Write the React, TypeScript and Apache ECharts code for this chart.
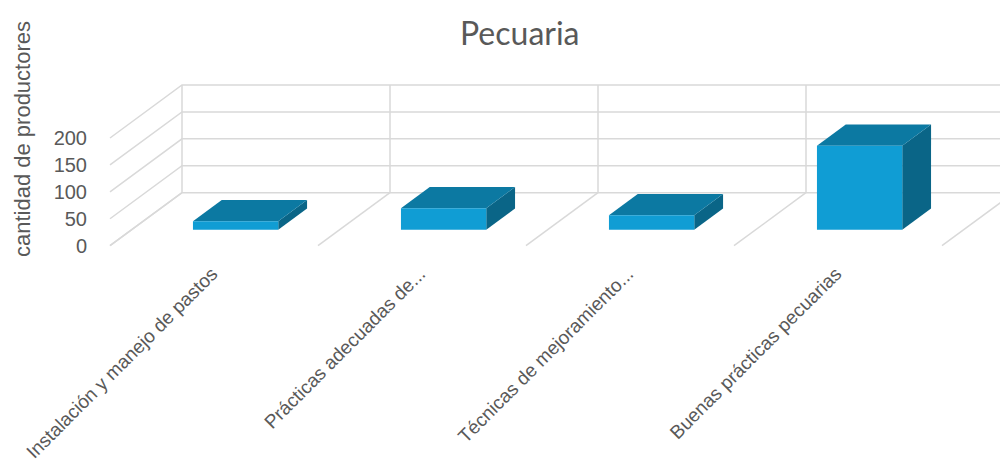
import React, { useEffect, useRef } from "react";
import * as echarts from "echarts";

// Livestock practices: number of producers per practice
const categories = [
  "Instalación y manejo de pastos",
  "Prácticas adecuadas de...",
  "Técnicas de mejoramiento...",
  "Buenas prácticas pecuarias",
];
const values = [16, 40, 27, 156];
const yTicks = [0, 50, 100, 150, 200];

// Oblique projection of the depth axis (screen pixels for full depth)
const DEPTH_X = 72;
const DEPTH_Y = -53;
// Bars sit in the middle of the depth, narrower than their band
const BAR_DEPTH_FRONT = 0.3;
const BAR_DEPTH_BACK = 0.7;
const BAR_WIDTH_RATIO = 0.41;

const GRID_COLOR = "#d9d9d9";
const TEXT_COLOR = "#595959";
const FACE_FRONT = "#109dd4";
const FACE_TOP = "#0c79a2";
const FACE_SIDE = "#0a6587";

export default function App() {
  const ref = useRef<HTMLDivElement>(null);

  useEffect(() => {
    if (!ref.current) return;
    const chart = echarts.init(ref.current, undefined, { renderer: "svg" });

    const lineStyle = { stroke: GRID_COLOR, lineWidth: 1.5, fill: null };

    const option: any = {
      animation: false,
      backgroundColor: "#ffffff",
      title: {
        text: "Pecuaria",
        left: 455,
        top: 11,
        textStyle: {
          fontFamily: "Lato, sans-serif",
          fontWeight: "normal",
          fontSize: 32,
          color: TEXT_COLOR,
        },
      },
      grid: { left: 110, right: 58, top: 138, bottom: 216 },
      xAxis: {
        type: "category",
        data: categories,
        axisLine: { show: false },
        axisTick: { show: false },
        splitLine: { show: false },
        axisLabel: {
          interval: 0,
          rotate: 45,
          margin: 25,
          fontFamily: "'Liberation Sans', Arial, sans-serif",
          fontSize: 19,
          color: TEXT_COLOR,
        },
      },
      yAxis: {
        type: "value",
        min: 0,
        max: 200,
        interval: 50,
        axisLine: { show: false },
        axisTick: { show: false },
        splitLine: { show: false },
        axisLabel: {
          margin: 23,
          fontFamily: "'Liberation Sans', Arial, sans-serif",
          fontSize: 20,
          color: TEXT_COLOR,
        },
      },
      graphic: [
        {
          type: "text",
          x: 22,
          y: 139,
          rotation: Math.PI / 2,
          style: {
            text: "cantidad de productores",
            fontFamily: "'Liberation Sans', Arial, sans-serif",
            fontSize: 22,
            fill: TEXT_COLOR,
            align: "center",
            verticalAlign: "middle",
          },
        },
      ],
      series: [
        {
          // Left wall and back wall gridlines at each tick value
          type: "custom",
          clip: false,
          silent: true,
          z: 1,
          data: yTicks.map((v) => [0, v]),
          renderItem: (params: any, api: any) => {
            const cs = params.coordSys;
            const y = api.coord([0, api.value(1)])[1];
            return {
              type: "polyline",
              shape: {
                points: [
                  [cs.x, y],
                  [cs.x + DEPTH_X, y + DEPTH_Y],
                  [cs.x + cs.width + DEPTH_X, y + DEPTH_Y],
                ],
              },
              style: lineStyle,
            };
          },
        },
        {
          // Floor diagonals and back wall verticals at band boundaries
          type: "custom",
          clip: false,
          silent: true,
          z: 1,
          data: categories.map((_, i) => [i, 0]),
          renderItem: (params: any, api: any) => {
            const i = api.value(0);
            const band = api.size([1, 0])[0];
            const center = api.coord([i, 0]);
            const y0 = center[1];
            const yTop = api.coord([i, yTicks[yTicks.length - 1]])[1];
            const edges = [center[0] - band / 2];
            if (params.dataIndex === categories.length - 1) edges.push(center[0] + band / 2);
            const children: any[] = [];
            edges.forEach((x) => {
              children.push({
                type: "line",
                shape: { x1: x, y1: y0, x2: x + DEPTH_X, y2: y0 + DEPTH_Y },
                style: lineStyle,
              });
              children.push({
                type: "line",
                shape: {
                  x1: x + DEPTH_X,
                  y1: y0 + DEPTH_Y,
                  x2: x + DEPTH_X,
                  y2: yTop + DEPTH_Y,
                },
                style: lineStyle,
              });
            });
            return { type: "group", children };
          },
        },
        {
          // 3D boxes
          type: "custom",
          clip: false,
          z: 5,
          data: values.map((v, i) => [i, v]),
          renderItem: (params: any, api: any) => {
            const i = api.value(0);
            const v = api.value(1);
            const base = api.coord([i, 0]);
            const top = api.coord([i, v]);
            const band = api.size([1, 0])[0];
            const hw = (band * BAR_WIDTH_RATIO) / 2;
            const fx = DEPTH_X * BAR_DEPTH_FRONT;
            const fy = DEPTH_Y * BAR_DEPTH_FRONT;
            const bx = DEPTH_X * BAR_DEPTH_BACK;
            const by = DEPTH_Y * BAR_DEPTH_BACK;
            const l = base[0] - hw;
            const r = base[0] + hw;
            return {
              type: "group",
              children: [
                {
                  type: "polygon",
                  shape: {
                    points: [
                      [r + fx, top[1] + fy],
                      [r + bx, top[1] + by],
                      [r + bx, base[1] + by],
                      [r + fx, base[1] + fy],
                    ],
                  },
                  style: { fill: FACE_SIDE },
                },
                {
                  type: "polygon",
                  shape: {
                    points: [
                      [l + fx, top[1] + fy],
                      [r + fx, top[1] + fy],
                      [r + bx, top[1] + by],
                      [l + bx, top[1] + by],
                    ],
                  },
                  style: { fill: FACE_TOP },
                },
                {
                  type: "rect",
                  shape: {
                    x: l + fx,
                    y: top[1] + fy,
                    width: r - l,
                    height: base[1] - top[1],
                  },
                  style: { fill: FACE_FRONT },
                },
              ],
            };
          },
        },
      ],
    };

    chart.setOption(option);
    return () => chart.dispose();
  }, []);

  return (
    <div
      ref={ref}
      style={{ position: "fixed", left: 0, top: 0, width: 1000, height: 464, background: "#fff" }}
    />
  );
}
